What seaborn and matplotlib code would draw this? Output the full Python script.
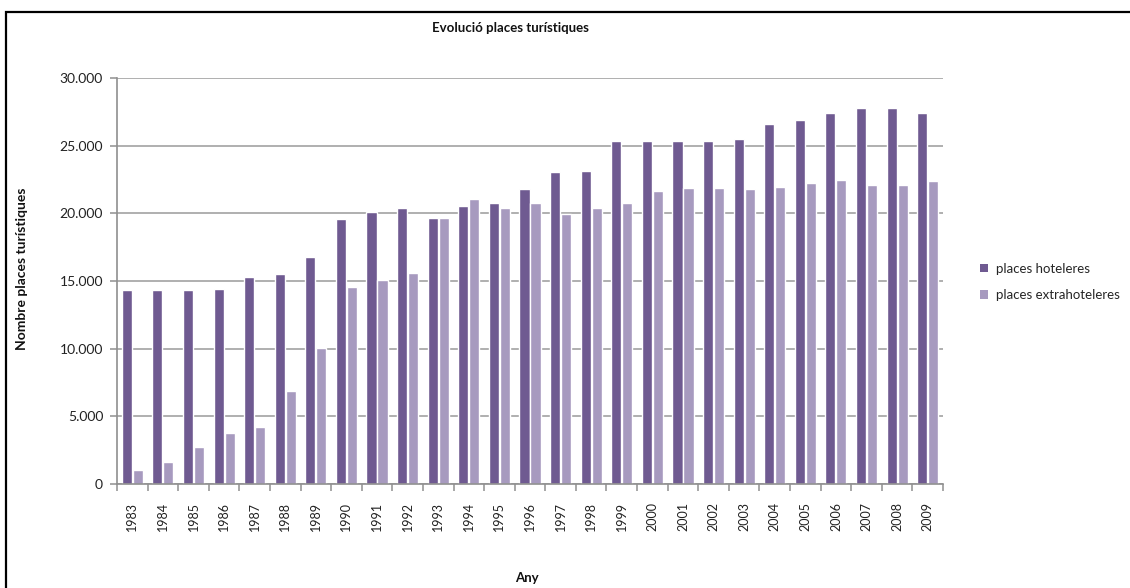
import matplotlib
matplotlib.use("Agg")
import matplotlib.pyplot as plt
from matplotlib.patches import Patch, Rectangle
from matplotlib.ticker import FuncFormatter, FixedLocator
import seaborn as sns
import pandas as pd

years = [str(y) for y in range(1983, 2010)]
places_hoteleres = [14320, 14320, 14320, 14400, 15260, 15510, 16790, 19610, 20080, 20410,
                    19690, 20550, 20730, 21770, 23050, 23150, 25380, 25380, 25380, 25380,
                    25480, 26590, 26910, 27450, 27780, 27780, 27380]
places_extrahoteleres = [1040, 1610, 2770, 3760, 4230, 6850, 10070, 14570, 15060, 15610,
                         19690, 21050, 20430, 20730, 19940, 20430, 20730, 21620, 21860, 21860,
                         21770, 21940, 22260, 22430, 22090, 22090, 22360]
series_names = ["places hoteleres", "places extrahoteleres"]
colors = ["#6f5a91", "#a79abf"]

df = pd.DataFrame({
    "Any": years * 2,
    "valor": places_hoteleres + places_extrahoteleres,
    "serie": [series_names[0]] * len(years) + [series_names[1]] * len(years),
})

sns.set_theme(style="white")
plt.rcParams["font.family"] = ["Lato", "DejaVu Sans"]

W, H = 1130, 588
fig = plt.figure(figsize=(W / 100, H / 100), dpi=100)
ax = fig.add_axes([117 / W, 1 - 484 / H, (943 - 117) / W, (484 - 78) / H])

sns.barplot(data=df, x="Any", y="valor", hue="serie", palette=colors,
            width=0.72, gap=0.08, ax=ax, legend=False, saturation=1)

ax.set_ylim(0, 30000)
ax.set_xlim(-0.5, len(years) - 0.5)
ax.set_yticks(range(0, 30001, 5000))
ax.yaxis.set_major_formatter(FuncFormatter(lambda v, p: f"{int(v):,}".replace(",", ".")))
ax.yaxis.grid(True, color="#9a9a9a", linewidth=1.1)
ax.set_axisbelow(True)

grid_col = "#8f8f8f"
for s in ["top", "right"]:
    ax.spines[s].set_visible(False)
for s in ["left", "bottom"]:
    ax.spines[s].set_color(grid_col)
    ax.spines[s].set_linewidth(1.2)

ax.tick_params(axis="y", which="major", left=True, length=5, width=1.1, color=grid_col,
               labelsize=10, pad=5, labelcolor="#222222")
ax.tick_params(axis="x", which="major", bottom=False, labelsize=9, rotation=90, pad=7,
               labelcolor="#222222")
ax.xaxis.set_minor_locator(FixedLocator([i - 0.5 for i in range(len(years) + 1)]))
ax.tick_params(axis="x", which="minor", bottom=True, length=5, width=1.1, color=grid_col)

ax.set_xlabel("")
ax.set_ylabel("")

fig.text(510 / W, 1 - 28 / H, "Evolució places turístiques", ha="center", va="center",
         fontsize=9.5, fontweight="bold", color="#111111")
fig.text(22 / W, 1 - 269 / H, "Nombre places turístiques", ha="center", va="center",
         rotation=90, fontsize=10, fontweight="bold", color="#111111")
fig.text(527 / W, 1 - 578 / H, "Any", ha="center", va="center",
         fontsize=9.5, fontweight="bold", color="#111111")

handles = [Patch(facecolor=c, edgecolor="none") for c in colors]
fig.legend(handles, series_names, loc="center left",
           bbox_to_anchor=(968 / W, 1 - 282 / H), frameon=False, fontsize=9.5,
           handlelength=0.6, handleheight=0.6, handletextpad=0.6, labelspacing=1.1)

# outer frame around the chart area
fig.patches.append(Rectangle((6 / W, -0.05), 1.2, 1 - 12 / H + 0.05, transform=fig.transFigure,
                             fill=False, edgecolor="black", linewidth=1.6))

fig.savefig("out.png", dpi=100)
